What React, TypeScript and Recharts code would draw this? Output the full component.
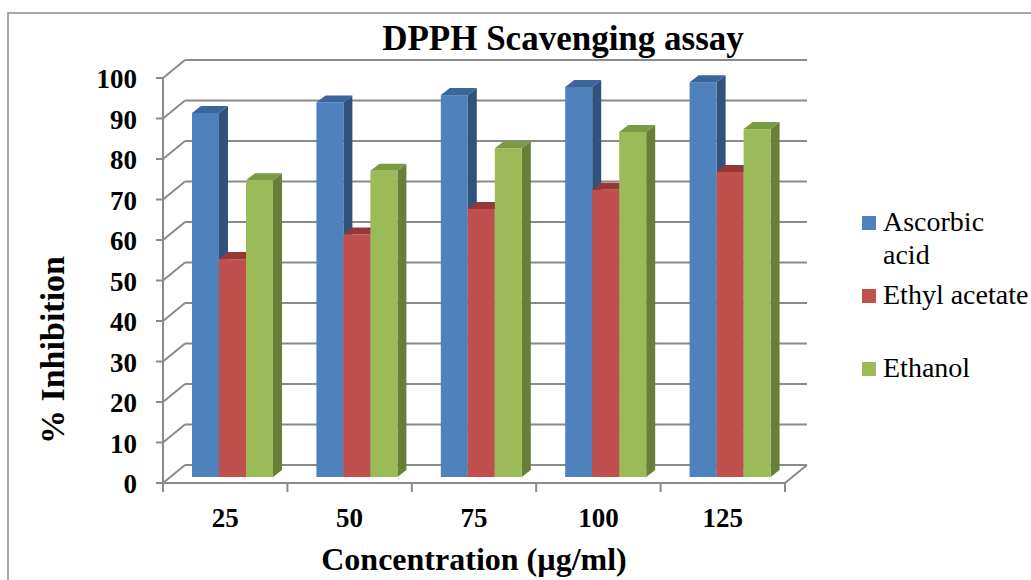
import { Bar, BarChart, CartesianGrid, Customized, Legend, XAxis, YAxis } from 'recharts';

const concentrations = ['25', '50', '75', '100', '125'];
const ascorbicAcid = [89.9, 92.5, 94.3, 96.3, 97.5];
const ethylAcetate = [53.8, 59.9, 66.2, 70.9, 75.3];
const ethanol = [73.3, 75.6, 81.2, 85.2, 85.9];
const yTicks = [0, 10, 20, 30, 40, 50, 60, 70, 80, 90, 100];

const seriesNames = ['Ascorbic acid', 'Ethyl acetate', 'Ethanol'];
const seriesColors = [
  { front: '#4f81bd', top: '#3c659b', side: '#30527b' },
  { front: '#c0504d', top: '#953836', side: '#7e2f2d' },
  { front: '#9bbb59', top: '#7c9a44', side: '#677f37' }
];

const data = concentrations.map((label, i) => ({
  label,
  ascorbic: ascorbicAcid[i],
  ethyl: ethylAcetate[i],
  ethanol: ethanol[i]
}));

const font = '"Liberation Serif", "Times New Roman", serif';
const gridColor = '#8a8a8a';
// oblique 3d look: back wall offset and where the bars sit in depth
const wall = { dx: 22, dy: -18 };
const barShift = { dx: 7, dy: -6 };
const barDepth = { dx: 9, dy: -7 };
const legendWidth = 169;

function makeBarShape(colors: { front: string; top: string; side: string }) {
  return (props: any) => {
    const { x, y, width, height } = props;
    if (width == null || height == null || height <= 0) {
      return <g />;
    }
    const X = x + barShift.dx;
    const Y = y + barShift.dy;
    const w = width;
    const h = height;
    const top = `${X},${Y} ${X + w},${Y} ${X + w + barDepth.dx},${Y + barDepth.dy} ${X + barDepth.dx},${Y + barDepth.dy}`;
    const side = `${X + w},${Y} ${X + w + barDepth.dx},${Y + barDepth.dy} ${X + w + barDepth.dx},${Y + h + barDepth.dy} ${X + w},${Y + h}`;
    return (
      <g>
        <polygon points={side} fill={colors.side} />
        <polygon points={top} fill={colors.top} />
        <rect x={X} y={Y} width={w} height={h} fill={colors.front} />
      </g>
    );
  };
}

function WallLine(props: any) {
  const { x1, y1, x2, y, height } = props;
  const isFloor = Math.abs(y1 - (y + height)) < 0.5;
  return (
    <g>
      <line x1={x1} y1={y1} x2={x1 + wall.dx} y2={y1 + wall.dy} stroke={gridColor} strokeWidth={2} />
      <line x1={x1 + wall.dx} y1={y1 + wall.dy} x2={x2 + wall.dx} y2={y1 + wall.dy} stroke={gridColor} strokeWidth={2} />
      {isFloor ? <line x1={x2} y1={y1} x2={x2 + wall.dx} y2={y1 + wall.dy} stroke={gridColor} strokeWidth={2} /> : null}
    </g>
  );
}

function CategoryTick(props: any) {
  const { x, y, payload, index, visibleTicksCount } = props;
  const half = payload?.offset ?? 0;
  const isLast = index === visibleTicksCount - 1;
  return (
    <g>
      <line x1={x - half} y1={y} x2={x - half} y2={y + 9} stroke={gridColor} strokeWidth={2} />
      {isLast ? <line x1={x + half} y1={y} x2={x + half} y2={y + 9} stroke={gridColor} strokeWidth={2} /> : null}
      <text x={x} y={y + 44} textAnchor="middle" style={{ fontFamily: font }} fontSize={27} fontWeight="bold" fill="#000">
        {payload.value}
      </text>
    </g>
  );
}

function ValueTick(props: any) {
  const { x, y, payload } = props;
  return (
    <text x={x} y={y + 10} textAnchor="end" style={{ fontFamily: font }} fontSize={27} fontWeight="bold" fill="#000">
      {payload.value}
    </text>
  );
}

function LegendContent() {
  return (
    <div style={{ fontFamily: font, fontSize: 28, lineHeight: '33px', color: '#000' }}>
      {seriesNames.map((name, i) => (
        <div key={name} style={{ display: 'flex', alignItems: 'flex-start', height: 73 }}>
          <div style={{ width: 14, height: 14, marginTop: 11, background: seriesColors[i].front, flex: 'none' }} />
          <div style={{ width: 150, marginLeft: 7, whiteSpace: 'normal', flex: 'none' }}>{name}</div>
        </div>
      ))}
    </div>
  );
}

function Decorations() {
  return (
    <g style={{ fontFamily: font }}>
      <rect x={8} y={13} width={1200} height={800} fill="none" stroke="#8c8c8c" strokeWidth={1.5} />
      <text x={563} y={50} textAnchor="middle" fontSize={35} fontWeight="bold" fill="#000">
        DPPH Scavenging assay
      </text>
      <text x={474} y={570} textAnchor="middle" fontSize={32} fontWeight="bold" fill="#000">
        Concentration (µg/ml)
      </text>
      <text x={64} y={350} transform="rotate(-90, 64, 350)" textAnchor="middle" fontSize={34} fontWeight="bold" fill="#000">
        % Inhibition
      </text>
    </g>
  );
}

export default function App() {
  return (
    <div style={{ position: 'absolute', left: 0, top: 0, width: 1031, height: 580, overflow: 'hidden', background: '#fff' }}>
      <BarChart
        width={1031}
        height={580}
        data={data}
        margin={{ top: 78, right: 246 - legendWidth, bottom: 57, left: 103 }}
        barSize={27}
        barGap={0}
      >
        <Customized component={Decorations} />
        <CartesianGrid vertical={false} horizontal={(props: any) => <WallLine key={props.key} {...props} />} />
        <XAxis
          dataKey="label"
          height={40}
          tickSize={0}
          tickMargin={0}
          axisLine={{ stroke: gridColor, strokeWidth: 2 }}
          tickLine={false}
          tick={<CategoryTick />}
          interval={0}
        />
        <YAxis
          width={60}
          domain={[0, 100]}
          ticks={yTicks}
          interval={0}
          tickSize={7}
          tickMargin={19}
          axisLine={{ stroke: gridColor, strokeWidth: 2 }}
          tickLine={{ stroke: gridColor, strokeWidth: 2 }}
          tick={<ValueTick />}
        />
        <Legend
          layout="vertical"
          align="right"
          verticalAlign="top"
          content={<LegendContent />}
          wrapperStyle={{ left: 862, top: 205, width: legendWidth }}
        />
        <Bar dataKey="ascorbic" name={seriesNames[0]} fill={seriesColors[0].front} shape={makeBarShape(seriesColors[0])} isAnimationActive={false} />
        <Bar dataKey="ethyl" name={seriesNames[1]} fill={seriesColors[1].front} shape={makeBarShape(seriesColors[1])} isAnimationActive={false} />
        <Bar dataKey="ethanol" name={seriesNames[2]} fill={seriesColors[2].front} shape={makeBarShape(seriesColors[2])} isAnimationActive={false} />
      </BarChart>
    </div>
  );
}
